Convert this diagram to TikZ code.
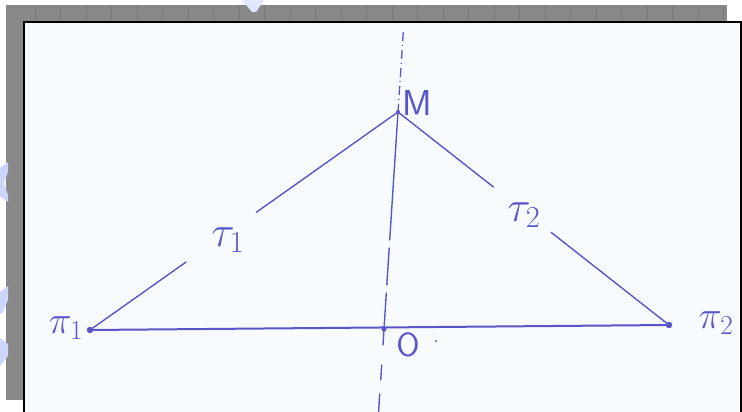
\RequirePackage{fix-cm}
\documentclass[tikz,border=0pt]{standalone}
\usepackage{graphicx}
\usetikzlibrary{calc}
\definecolor{ink}{HTML}{5A55C8}
\definecolor{bggray}{HTML}{888888}
\definecolor{gridgray}{HTML}{7A7A7A}
\definecolor{paper}{HTML}{F8FBFD}
\definecolor{wm}{HTML}{CDD5FA}
\tikzset{
  inkline/.style={draw=ink, line width=1.4pt, line cap=round},
  baseline/.style={draw=ink, line width=2pt, line cap=round},
  dashdot/.style={draw=ink, line width=1.3pt, dash pattern=on 9pt off 4pt on 1pt off 4pt},
  pt/.style={circle, draw=ink, fill=ink, inner sep=0pt, minimum size=6pt},
  lbl/.style={text=ink, font=\fontsize{30}{32}\selectfont, inner sep=1pt},
  lbls/.style={text=ink, font=\fontsize{24}{26}\selectfont, inner sep=1pt},
}
\begin{document}
\begin{tikzpicture}[x=1pt,y=-1pt]
\useasboundingbox (0,0) rectangle (742,412);
% background
\fill[white] (0,0) rectangle (742,412);
\fill[bggray] (6,5) rectangle (727,400);
\foreach \gx in {35,60.5,86,111.5,137,162.5,188,213.5,239,264.5,290,315.5,341,366.5,392,417.5,443,468.5,494,519.5,545,570.5,596,621.5,647,672.5,698,723.5}
  \draw[gridgray, line width=0.8pt] (\gx,5) -- (\gx,22);
% watermark fragments
\fill[wm] (0,168) -- (8,162) -- (8,172) -- (4,183) -- (8,195) -- (8,202) -- (0,196) -- cycle;
\fill[wm] (0,292) -- (8,286) -- (8,300) -- (3,312) -- (0,314) -- cycle;
\fill[wm] (0,338) -- (8,344) -- (8,356) -- (0,366) -- cycle;
\fill[wm!60!white] (242,0) -- (264,0) -- (256,12) -- (252,12) -- cycle;
% paper
\filldraw[fill=paper, draw=black, line width=1.6pt] (24,22) rectangle (741,414);

% points
\node[pt] (P1) at (90,330) {};
\node[pt] (P2) at (669,325) {};
\coordinate (M) at (398,112);
\coordinate (O) at (384,329);

% axis through M and O
\coordinate (A0) at (403.3,32);
\coordinate (A1) at (389.7,240);
\coordinate (A2) at (389.2,248);
\coordinate (A3) at (386.8,285);
\coordinate (A4) at (386.3,293);
\coordinate (A5) at (383.0,345);
\coordinate (A6) at (381.7,365);
\coordinate (A7) at (380.7,380);
\coordinate (A8) at (379.7,394);
\coordinate (A9) at (378.6,412);
\draw[dashdot] (A0) -- (M);
\draw[inkline] (M) -- (A1);
\draw[inkline] (A2) -- (A3);
\draw[inkline] (A4) -- (O) -- (A5);
\draw[inkline] (A6) -- (A7);
\draw[inkline] (A8) -- (A9);
\fill[ink] (O) circle (2.6pt);
\fill[ink] (M) circle (2pt);

% base line
\draw[baseline] (P1) -- (P2);

% tau1 side
\coordinate (g1a) at ($(P1)!0.312!(M)$);
\coordinate (g1b) at ($(P1)!0.540!(M)$);
\draw[inkline] (P1) -- (g1a);
\draw[inkline] (g1b) -- (M);
% tau2 side
\coordinate (g2a) at ($(M)!0.352!(P2)$);
\coordinate (g2b) at ($(M)!0.565!(P2)$);
\draw[inkline] (M) -- (g2a);
\draw[inkline] (g2b) -- (P2);

% labels
\node[lbl] (lP1) at (66,328) {\scalebox{1.3}{$\pi_1$}};
\node[lbl] (lP2) at (716,323) {\scalebox{1.3}{$\pi_2$}};
\node[lbls] (lM) at (417,103) {\scalebox{1.5}{$\mathsf{M}$}};
\node[lbls] (lO) at (408,345) {\scalebox{1.4}{$\mathsf{O}$}};
\fill[ink] (436,341) circle (1.2pt);
\node[lbl] (lt1) at (228,240) {\scalebox{1.45}{$\tau_1$}};
\node[lbl] (lt2) at (524,215) {\scalebox{1.45}{$\tau_2$}};
\end{tikzpicture}
\end{document}
